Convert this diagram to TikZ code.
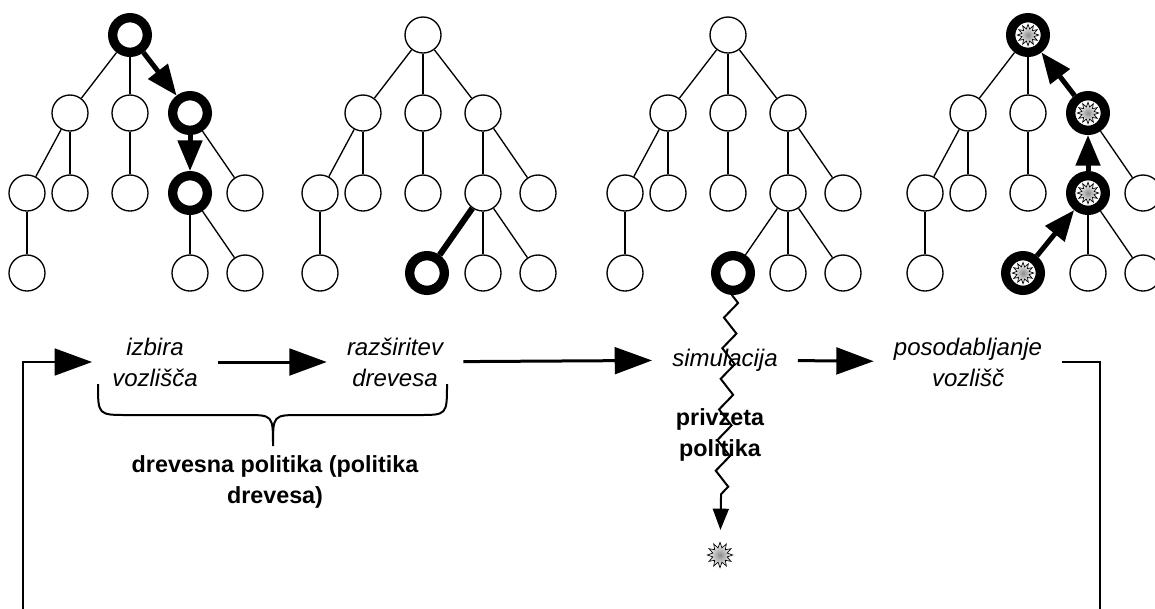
\documentclass[tikz,border=0pt]{standalone}
\usepackage{fontspec}
\setmainfont{Liberation Sans}
\usetikzlibrary{arrows.meta,shapes.geometric,decorations.pathmorphing}

\tikzset{
  vtx/.style={circle, draw, line width=1pt, minimum size=27pt, inner sep=0pt, fill=white},
  hot/.style={circle, draw, line width=7pt, minimum size=26pt, inner sep=0pt, fill=white},
  burst/.style={star, star points=12, star point ratio=1.7, draw, line width=0.5pt,
    inner color=gray!90, outer color=white, minimum size=16pt, inner sep=0pt},
  twig/.style={line width=1pt},
  hotarrow/.style={line width=3.75pt, -{Triangle[length=23pt,width=18pt]}},
  flow/.style={line width=2.25pt, -{Triangle[length=28pt,width=20pt]}},
  stage/.style={font=\fontsize{18}{23.25}\selectfont\itshape, align=center, inner xsep=15pt},
  note/.style={font=\fontsize{17.5}{23.25}\selectfont\bfseries, align=center},
}

\begin{document}
\begin{tikzpicture}[x=0.75pt, y=-0.75pt] % one unit = one pixel of the reference

        % Define parameters
        \def\ya{35}   % root row
        \def\yb{113}  % first level
        \def\yc{193}  % second level
        \def\yd{273}  % leaves

        \useasboundingbox (0,0) rectangle (1155,608);

        % The four trees (same skeleton, path nodes drawn thick)
        \foreach \t/\x/\s in {1/130/hot, 2/423/vtx, 3/728/vtx, 4/1028/hot} {
            \node[\s] (t\t r) at (\x,\ya) {};
            \node[vtx] (t\t a) at ({\x-60},\yb) {};
            \node[vtx] (t\t b) at (\x,\yb) {};
            \node[\s] (t\t c) at ({\x+60},\yb) {};
            \node[vtx] (t\t aa) at ({\x-103},\yc) {};
            \node[vtx] (t\t ab) at ({\x-60},\yc) {};
            \node[vtx] (t\t ba) at (\x,\yc) {};
            \node[\s] (t\t ca) at ({\x+60},\yc) {};
            \node[vtx] (t\t cb) at ({\x+115},\yc) {};
            \node[vtx] (t\t aaa) at ({\x-103},\yd) {};
            \node[vtx] (t\t cay) at ({\x+60},\yd) {};
            \node[vtx] (t\t caz) at ({\x+115},\yd) {};

            \draw[twig] (t\t r) -- (t\t a);
            \draw[twig] (t\t r) -- (t\t b);
            \draw[twig] (t\t a) -- (t\t aa);
            \draw[twig] (t\t a) -- (t\t ab);
            \draw[twig] (t\t b) -- (t\t ba);
            \draw[twig] (t\t c) -- (t\t cb);
            \draw[twig] (t\t aa) -- (t\t aaa);
            \draw[twig] (t\t ca) -- (t\t cay);
            \draw[twig] (t\t ca) -- (t\t caz);
        }

        % new leaves
        \node[hot] (t2cax) at (427,\yd) {};
        \node[hot] (t3cax) at (733,\yd) {};
        \node[hot] (t4cax) at (1023,\yd) {};

        % tree 1: selection
        \draw[hotarrow] (t1r) -- (t1c);
        \draw[hotarrow] (t1c) -- (t1ca);

        % tree 2: expansion
        \draw[twig] (t2r) -- (t2c);
        \draw[twig] (t2c) -- (t2ca);
        \draw[line width=4.5pt] (t2ca) -- (t2cax);

        % tree 3: simulation
        \draw[twig] (t3r) -- (t3c);
        \draw[twig] (t3c) -- (t3ca);
        \draw[twig] (t3ca) -- (t3cax);
        \node[burst, minimum size=19pt] (sburst) at (720,555) {};
        \coordinate (zzend) at (721,497);
        \draw[line width=1.5pt, decorate, decoration={zigzag, segment length=23pt, amplitude=5pt}] (t3cax) -- (zzend);
        \draw[line width=1.5pt, -{Triangle[length=16pt,width=12pt]}, shorten >=9pt] (zzend) -- (sburst);

        % tree 4: backpropagation
        \node[burst] (b4r) at (t4r) {};
        \node[burst] (b4c) at (t4c) {};
        \node[burst] (b4ca) at (t4ca) {};
        \node[burst] (b4cax) at (t4cax) {};
        \draw[hotarrow] (t4cax) -- (t4ca);
        \draw[hotarrow] (t4ca) -- (t4c);
        \draw[hotarrow] (t4c) -- (t4r);

        % labels
        \node[stage] (izb) at (155,362) {izbira\\vozlišča};
        \node[stage] (raz) at (395,362) {razširitev\\drevesa};
        \node[stage] (sim) at (725,360) {simulacija};
        \node[stage] (pos) at (968,362) {posodabljanje\\vozlišč};
        \node[note] (tree) at (275,482) {drevesna politika (politika\\drevesa)};
        \node[note] (dflt) at (720,435) {privzeta\\politika};

        % cycle
        \draw[flow] (izb) -- (raz);
        \draw[flow] (raz) -- (sim);
        \draw[flow] (sim) -- (pos);
        \coordinate (loopR) at (1100,620);
        \coordinate (loopL) at (23,620);
        \draw[flow, line width=1.9pt] (pos.east) -| (loopR) -- (loopL) |- (izb.west);

        % brace
        \draw[line width=1.5pt] (98,384) .. controls (98,415) .. (128,415) -- (245,415)
            .. controls (273,415) .. (273,446) .. controls (273,415) .. (301,415) -- (418,415)
            .. controls (447,415) .. (447,384);

    \end{tikzpicture}
\end{document}
